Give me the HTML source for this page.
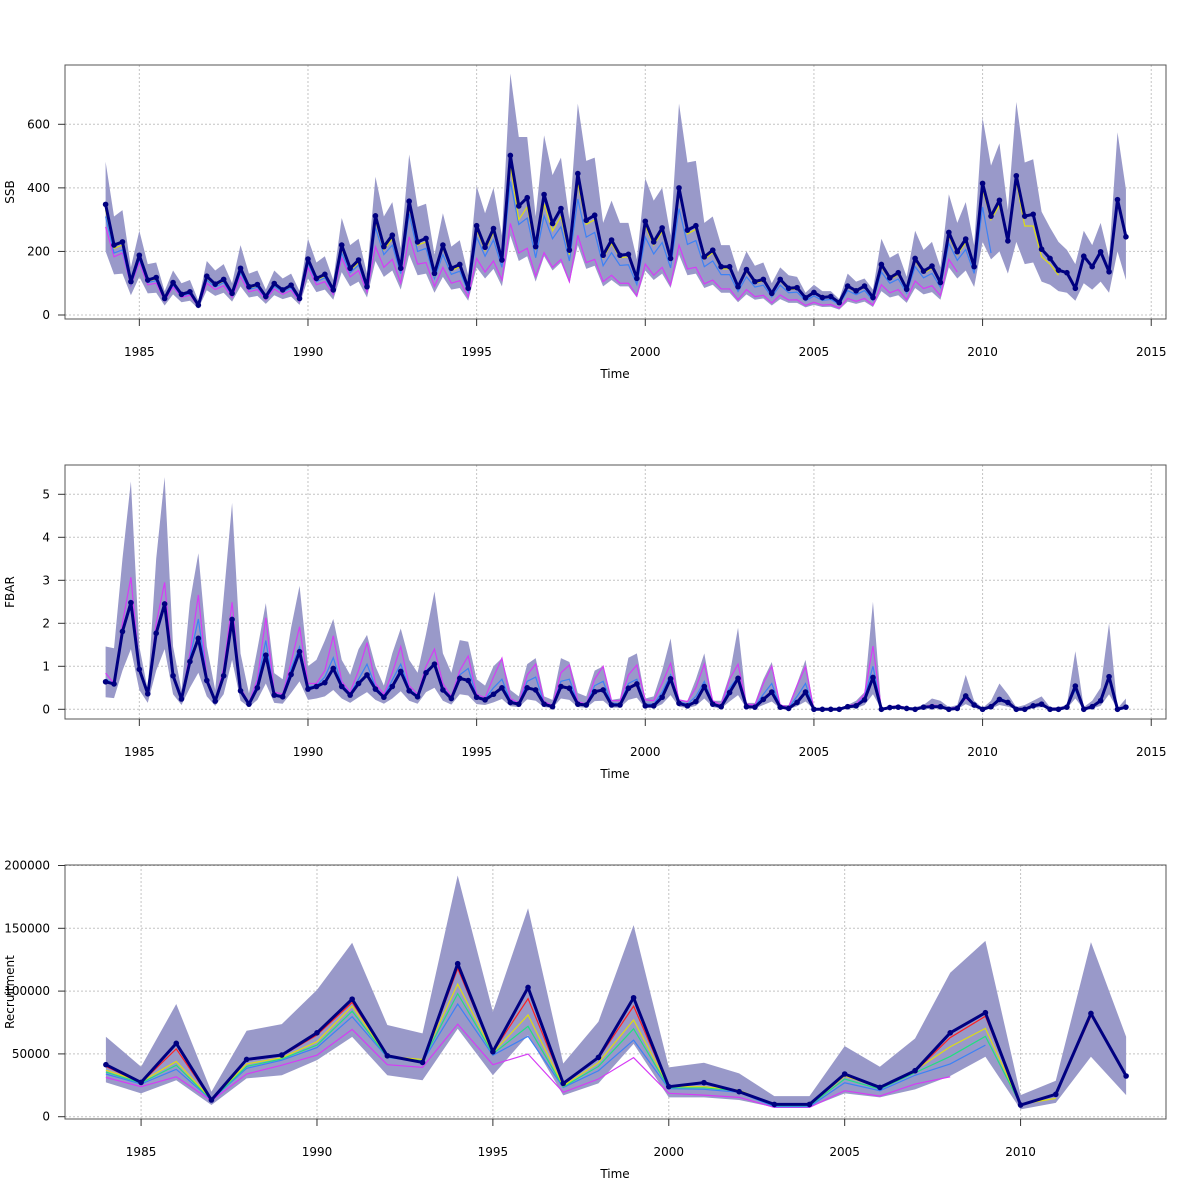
<!DOCTYPE html>
<html><head><meta charset="utf-8"><style>
html,body{margin:0;padding:0;background:#fff;}
svg{display:block;font-family:"DejaVu Sans","Liberation Sans",sans-serif;}
</style></head><body>
<svg id="chart" width="1200" height="1200" viewBox="0 0 1200 1200" xmlns="http://www.w3.org/2000/svg"></svg>
<script>
// ---------- SSB (quarterly, from 1984.0) ----------
const ssbMain=[348,220,230,105,188,110,118,52,102,65,73,31,122,97,112,68,147,89,96,58,99,79,94,52,176,115,128,79,220,147,173,89,312,215,251,147,358,230,241,131,220,147,159,84,281,213,272,173,502,343,369,215,379,288,335,204,445,298,314,188,236,188,191,115,295,230,274,178,400,267,281,183,204,152,152,89,143,105,112,68,112,84,86,54,71,55,58,39,91,76,91,55,159,117,133,81,178,138,154,102,260,199,239,152,414,311,361,233,438,311,317,207,178,141,133,84,185,152,199,136,363,246];
const ssbHi=[482,310,330,150,265,160,165,75,140,100,110,45,170,140,160,100,220,130,140,80,140,115,130,75,240,165,185,110,305,220,240,130,435,310,355,210,505,340,350,190,320,215,235,125,405,320,400,250,760,560,560,310,565,440,495,300,665,485,495,290,360,290,290,175,430,360,400,250,665,480,485,290,310,220,220,135,200,155,165,100,150,125,120,70,95,75,75,50,130,105,115,80,240,180,195,120,265,205,230,150,380,290,355,220,620,470,540,330,670,480,490,325,275,230,205,160,265,220,290,180,575,395];
const ssbLo=[200,128,130,62,120,68,70,30,65,40,45,20,78,60,70,42,90,55,60,35,62,50,58,32,115,72,80,48,135,90,105,55,170,120,140,80,190,125,130,70,120,80,85,45,150,115,145,90,250,170,185,105,185,140,165,100,220,145,155,90,110,90,90,55,140,110,130,85,190,125,130,85,95,70,70,40,65,48,52,30,50,38,38,24,32,25,26,17,42,35,42,25,75,55,62,38,85,65,72,48,150,115,140,88,230,175,200,130,230,160,165,105,95,75,70,45,100,80,105,70,200,110];
const ssbMag=[277,183,195,92,165,95,100,45,88,56,62,27,100,80,92,56,120,73,80,48,82,65,78,43,150,95,105,65,180,120,140,72,215,150,175,100,246,160,165,90,150,100,108,57,178,135,170,110,288,195,210,122,196,150,175,105,251,165,175,105,125,100,100,60,160,125,150,95,220,145,150,98,110,82,82,48,80,58,62,38,63,47,48,30,40,31,33,22,52,43,52,31,95,70,80,48,107,83,92,61,175,135];
const ssbBlue=[310,195,205,95,175,102,108,48,94,60,67,29,110,88,102,62,133,81,87,53,90,72,85,47,162,105,117,72,195,133,157,81,275,190,220,130,318,200,210,115,190,128,138,73,245,185,236,150,420,285,305,180,312,240,278,170,365,245,260,155,196,156,158,96,245,192,228,148,335,222,234,152,170,127,127,74,120,88,94,57,94,70,72,45,60,46,49,33,77,64,77,46,135,100,113,69,152,117,131,87,225,172,206,131,340,195];
const ssbYellow=[330,210,220,100,182,106,114,50,98,63,70,30,117,93,107,65,140,85,92,55,95,76,90,50,170,110,123,76,210,140,165,85,298,205,240,140,342,220,230,125,210,140,152,80,268,203,260,165,470,300,340,205,350,265,310,190,415,285,300,180,225,180,183,110,280,220,262,170,385,255,270,175,196,145,145,85,137,100,107,65,107,80,82,52,68,53,56,37,87,73,87,53,152,112,127,78,170,132,147,98,248,190,228,145,395,300,345,225,420,280,280,183,160,125];
const ssbYTicks=[0,200,400,600];
// ---------- FBAR (quarterly) ----------
const fbarMain=[0.64,0.59,1.81,2.48,0.93,0.36,1.77,2.45,0.78,0.24,1.11,1.65,0.67,0.19,0.78,2.09,0.43,0.12,0.50,1.26,0.33,0.29,0.81,1.34,0.47,0.53,0.62,0.95,0.53,0.33,0.60,0.80,0.47,0.28,0.53,0.88,0.43,0.29,0.85,1.05,0.45,0.25,0.72,0.67,0.28,0.22,0.35,0.50,0.16,0.12,0.50,0.45,0.12,0.06,0.53,0.49,0.12,0.10,0.41,0.45,0.10,0.10,0.49,0.59,0.08,0.08,0.28,0.71,0.14,0.08,0.18,0.53,0.12,0.06,0.39,0.72,0.06,0.05,0.23,0.40,0.05,0.02,0.16,0.40,0,0,0,0,0.06,0.08,0.22,0.74,0,0.04,0.05,0.02,0,0.05,0.06,0.06,0,0.02,0.31,0.10,0,0.06,0.23,0.16,0,0,0.08,0.12,0,0,0.05,0.54,0,0.06,0.20,0.76,0,0.05];
const fbarHi=[1.46,1.42,3.5,5.3,1.46,0.45,3.5,5.4,1.46,0.45,2.5,3.63,1.46,0.45,2.6,4.8,1.3,0.37,1.4,2.47,0.84,0.7,1.9,2.87,1.0,1.15,1.6,2.1,1.15,0.8,1.4,1.73,1.0,0.55,1.3,1.88,1.15,0.85,1.75,2.74,1.3,0.85,1.61,1.57,0.7,0.55,1.0,1.19,0.45,0.3,1.05,1.19,0.3,0.22,1.19,1.1,0.38,0.3,0.9,1.0,0.22,0.25,1.2,1.3,0.25,0.3,0.9,1.65,0.2,0.2,0.7,1.3,0.2,0.2,0.8,1.9,0.15,0.15,0.7,1.1,0.1,0.1,0.6,1.15,0.02,0.02,0.02,0.03,0.1,0.2,0.4,2.5,0.02,0.08,0.1,0.05,0.05,0.1,0.25,0.2,0.05,0.1,0.8,0.2,0.03,0.2,0.6,0.35,0.05,0.1,0.2,0.3,0.05,0.05,0.1,1.35,0.05,0.2,0.5,2.0,0.02,0.25];
const fbarLo=[0.28,0.26,0.9,1.4,0.45,0.15,0.9,1.4,0.35,0.1,0.5,0.85,0.3,0.08,0.35,1.15,0.2,0.05,0.22,0.6,0.15,0.13,0.38,0.65,0.22,0.25,0.3,0.45,0.25,0.15,0.28,0.4,0.22,0.13,0.25,0.42,0.2,0.13,0.4,0.5,0.2,0.11,0.35,0.32,0.12,0.1,0.16,0.24,0.07,0.05,0.23,0.2,0.05,0.03,0.25,0.22,0.05,0.04,0.19,0.2,0.04,0.04,0.22,0.27,0.03,0.03,0.12,0.33,0.06,0.03,0.08,0.25,0.05,0.02,0.18,0.33,0.02,0.02,0.1,0.18,0.02,0,0.07,0.18,0,0,0,0,0.02,0.03,0.1,0.35,0,0.01,0.02,0,0,0.02,0.02,0.02,0,0,0.12,0.03,0,0.02,0.1,0.06,0,0,0.03,0.05,0,0,0.02,0.25,0,0.02,0.08,0.35,0,0.02];
const fbarMag=[0.84,0.6,2.0,3.07,1.0,0.38,2.0,2.95,0.85,0.26,1.3,2.66,0.75,0.21,0.95,2.49,0.5,0.15,0.7,2.13,0.4,0.35,1.1,1.92,0.6,0.6,0.9,1.71,0.65,0.4,0.9,1.55,0.6,0.35,0.85,1.46,0.55,0.35,1.0,1.4,0.6,0.3,0.9,1.24,0.35,0.27,0.75,1.19,0.25,0.15,0.8,1.05,0.18,0.09,0.85,1.03,0.18,0.12,0.7,1.0,0.2,0.2,0.8,1.03,0.22,0.2,0.6,1.07,0.22,0.18,0.5,1.05,0.2,0.1,0.7,1.05,0.12,0.1,0.6,1.0,0.1,0.05,0.55,0.99,0,0,0,0,0.08,0.12,0.35,1.47,0.01,0.06,0.08,0.04,0.01,0.06,0.1,0.08,0.02,0.05,0.25,0.12,0.01,0.08,0.25,0.18,0.02,0.02,0.1,0.14,0.02,0.02,0.07,0.5,0.02,0.08,0.22,0.74,0.01,0.06];
const fbarBlue=[0.7,0.59,1.85,2.55,0.95,0.37,1.8,2.45,0.8,0.25,1.2,2.1,0.7,0.2,0.85,2.15,0.46,0.13,0.6,1.6,0.36,0.31,0.95,1.45,0.52,0.55,0.75,1.2,0.58,0.36,0.7,1.05,0.52,0.3,0.68,1.05,0.48,0.31,0.9,1.05,0.5,0.27,0.8,0.95,0.3,0.24,0.5,0.7,0.2,0.13,0.65,0.75,0.14,0.07,0.65,0.7,0.14,0.11,0.55,0.65,0.14,0.13,0.6,0.7,0.12,0.12,0.4,0.8,0.17,0.12,0.3,0.65,0.14,0.08,0.5,0.75,0.08,0.07,0.35,0.6,0.07,0.03,0.3,0.6,0,0,0,0,0.07,0.1,0.28,1.0,0.01,0.05,0.07,0.03,0.01,0.06,0.08,0.08,0.01,0.04,0.35,0.12,0.01,0.07,0.27,0.17,0.01,0.01,0.1,0.13,0.01,0.01,0.06,0.45,0.01,0.07,0.2,0.7,0,0.05];
const fbarYTicks=[0,1,2,3,4,5];
// ---------- Recruitment (annual, from 1984, thousands) ----------
const recMain=[41.4,27.3,58.4,13.3,45.6,49.1,66.8,93.6,48.5,43.2,121.8,51.7,102.9,26.5,47.2,94.7,23.9,27.1,19.9,9.8,9.8,34,23.3,36.6,66.8,82.8,9.3,17.8,82.2,32.4];
const recHi=[63.7,39.8,89.7,19.9,68.4,73.7,101,138.5,73,66.3,192,83.6,166,42.4,75.6,152.5,39.3,43,34.5,16.4,16.4,56.2,39.8,62.3,114.6,140,17.2,28.6,139,63.7];
const recLo=[27.3,18.6,29,9.3,30.5,33,45,63.6,33,29,70,33,65,17,26.5,58,15.4,15.4,13.3,7.4,7.4,18.6,15.4,21.8,32.4,47.7,5.8,11,47.7,17.2];
const recMag=[31.3,23.9,31.8,12.7,34,41,49,69.5,41.4,39.3,73.7,41.4,49.9,19.4,30,47,18.6,17.2,15.4,7.4,7.4,20.7,16.4,26,31.8];
const recBlue=[34,26,37.7,13.3,38.5,45,55,79.6,47.2,43.8,89.7,49,64,23.3,36.6,61,22.3,21.8,19.4,8,8,27,20.7,33,42,57];
const recGreen=[35.5,26.8,41,13.5,40,46,57,84,47.5,44.5,98,50,72,23.8,40,70,23,23,20.5,8.8,8.8,30,22,35,48,64,9.5];
const recYellow=[37,27.8,44,13.8,42,47,59.7,88,48,45.6,105.6,51,81,24.4,43,77,23.9,23.9,21.2,9.3,9.3,32.4,23.3,37,55.7,70.3,9.8,14.6];
const recRed=[40,27,54,13.3,45,48.5,65,91,48.5,43,118,51.5,94,26,46.5,88,23.9,26.5,19.9,9.8,9.8,33.5,23.3,36,63,80,9.5,17.5,80];
const recYTicks=[0,50000,100000,150000,200000];
const xTicksTop=[1985,1990,1995,2000,2005,2010,2015];
const xTicksRec=[1985,1990,1995,2000,2005,2010];

const NS="http://www.w3.org/2000/svg";
const svg=document.getElementById('chart');
function mk(tag,attrs,parent){const e=document.createElementNS(NS,tag);for(const k in attrs)e.setAttribute(k,attrs[k]);(parent||svg).appendChild(e);return e;}

function panel(cfg){
  const g=mk('g',{});
  
  
  const X=t=>cfg.x0+(t-cfg.t0)*cfg.px;
  const Y=v=>cfg.yZero-v*cfg.py;
  const L=65,R=1166,T=cfg.top,B=cfg.top+254;
  // grid
  cfg.xticks.forEach(t=>{
    const l=mk('line',{x1:X(t),x2:X(t),y1:T,y2:B,stroke:'#c4c4c4','stroke-dasharray':'2,2','stroke-width':1},g);
    
    
  });
  cfg.yticks.forEach(v=>{
    const l=mk('line',{x1:L,x2:R,y1:Y(v/cfg.div),y2:Y(v/cfg.div),stroke:'#c4c4c4','stroke-dasharray':'2,2','stroke-width':1},g);
    
    
  });
  // band
  let d='';
  cfg.hi.forEach((v,i)=>{d+=(i?'L':'M')+X(cfg.t0+i*cfg.step)+','+Y(v)});
  for(let i=cfg.lo.length-1;i>=0;i--)d+='L'+X(cfg.t0+i*cfg.step)+','+Y(cfg.lo[i]);
  const band=mk('path',{d:d+'Z',fill:'#9999c9',stroke:'none'},g);
  
  
  // quantile lines
  cfg.lines.forEach(s=>{
    const pts=s.v.map((v,i)=>X(cfg.t0+i*cfg.step)+','+Y(v)).join(' ');
    const pl=mk('polyline',{points:pts,fill:'none',stroke:s.c,'stroke-width':1.2},g);
    
    
  });
  // main
  const pts=cfg.main.map((v,i)=>X(cfg.t0+i*cfg.step)+','+Y(v)).join(' ');
  const ml=mk('polyline',{points:pts,fill:'none',stroke:'#000080','stroke-width':3,'stroke-linejoin':'round'},g);
  
  
  cfg.main.forEach((v,i)=>{
    const c=mk('circle',{cx:X(cfg.t0+i*cfg.step),cy:Y(v),r:2.8,fill:'#000080'},g);
    
    
  });
  // box
  const box=mk('rect',{x:L,y:T,width:R-L,height:B-T,fill:'none',stroke:'#555','stroke-width':1},g);
  
  
  // x axis
  cfg.xticks.forEach(t=>{
    const tk=mk('line',{x1:X(t),x2:X(t),y1:B,y2:B+7,stroke:'#333'},g);
    
    
    const tx=mk('text',{x:X(t),y:B+37,'text-anchor':'middle','font-size':12,fill:'#000'},g);
    tx.textContent=t;
    
    
  });
  const xt=mk('text',{x:615,y:B+59,'text-anchor':'middle','font-size':12},g);
  xt.textContent='Time';
  
  
  // y axis
  cfg.yticks.forEach(v=>{
    const y=Y(v/cfg.div);
    const tk=mk('line',{x1:L-7,x2:L,y1:y,y2:y,stroke:'#333'},g);
    
    
    const tx=mk('text',{x:50,y:y+4,'text-anchor':'end','font-size':12},g);
    tx.textContent=v;
    
    
  });
  const yt=mk('text',{x:14,y:(T+B)/2,'text-anchor':'middle','font-size':12,transform:'rotate(-90 14 '+((T+B)/2)+')'},g);
  yt.textContent=cfg.title;
  
  
}

panel({name:'ssb',title:'SSB',top:65,t0:1984,step:0.25,x0:105.6,px:33.73,yZero:315,py:190.7/600,div:1,
  xticks:xTicksTop,yticks:ssbYTicks,main:ssbMain,hi:ssbHi,lo:ssbLo,
  lines:[{n:'ssb-q-magenta',c:'#d63cf5',v:ssbMag},{n:'ssb-q-blue',c:'#3c82f5',v:ssbBlue},{n:'ssb-q-yellow',c:'#dede10',v:ssbYellow}]});
panel({name:'fbar',title:'FBAR',top:465,t0:1984,step:0.25,x0:105.6,px:33.73,yZero:709.3,py:43,div:1,
  xticks:xTicksTop,yticks:fbarYTicks,main:fbarMain,hi:fbarHi,lo:fbarLo,
  lines:[{n:'fbar-q-magenta',c:'#d63cf5',v:fbarMag},{n:'fbar-q-blue',c:'#3c82f5',v:fbarBlue}]});
panel({name:'recruitment',title:'Recruitment',top:865,t0:1984,step:1,x0:105.9,px:35.18,yZero:1116.7,py:1.256,div:1000,
  xticks:xTicksRec,yticks:recYTicks,main:recMain,hi:recHi,lo:recLo,
  lines:[{n:'rec-q-magenta',c:'#d63cf5',v:recMag},{n:'rec-q-blue',c:'#3c82f5',v:recBlue},{n:'rec-q-green',c:'#20e080',v:recGreen},{n:'rec-q-yellow',c:'#dede10',v:recYellow},{n:'rec-q-red',c:'#ff2020',v:recRed}]});
</script>
</body></html>
